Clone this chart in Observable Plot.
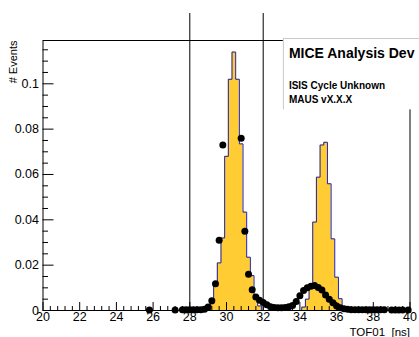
<!DOCTYPE html>
<html><head><meta charset="utf-8">
<script src="https://cdn.jsdelivr.net/npm/d3@7"></script>
<script src="https://cdn.jsdelivr.net/npm/@observablehq/plot@0.6"></script>
<style>
body{margin:0;background:#fff;}
svg{font-family:"Liberation Sans",Arial,Helvetica,sans-serif;}
</style></head><body><div id="chart"></div>
<script>
// Simulated histogram (bin centres, bin width 0.2 ns)
const histCenters = [29.2,29.4,29.6,29.8,30.0,30.2,30.4,30.6,30.8,31.0,31.2,31.4,31.6,31.8,
  32.0,32.2,32.4,32.6,32.8,33.0,33.2,33.4,33.6,33.8,34.0,
  34.2,34.4,34.6,34.8,35.0,35.2,35.4,35.6,35.8,36.0,36.2];
const histValues = [0.003,0.0125,0.021,0.032,0.068,0.102,0.114,0.102,0.0735,0.0434,0.0235,0.0154,0.006,0.002,
  0,0,0,0,0,0,0,0,0,0,0,
  0.0015,0.005,0.011,0.039,0.0588,0.073,0.0742,0.0559,0.0316,0.0147,0.0052];
const binWidth = 0.2;

// Data points (visible ones; bins 30.0-30.6 are off scale)
const dotX = [25.8,27.2,27.6,27.8,28.0,28.2,28.4,28.6,28.8,29.0,29.2,29.4,29.6,29.8,
  30.8,31.0,31.2,31.4,31.6,31.8,32.0,32.2,32.4,32.6,32.8,33.0,33.2,33.4,33.6,33.8,
  34.0,34.2,34.4,34.6,34.8,35.0,35.2,35.4,35.6,35.8,36.0,36.2,36.4,36.6,36.8,
  37.0,37.2,37.4,37.6,37.8,38.0,38.2,38.4,38.6,39.0,39.2,39.4,39.6,39.9];
const dotY = [0.0002,0.0002,0.0003,0.0003,0.0003,0.0003,0.0003,0.0003,0.0006,0.0015,0.0043,0.0118,0.031,0.073,
  0.076,0.035,0.016,0.0091,0.006,0.0045,0.0035,0.0025,0.0017,0.0013,0.0012,0.0012,0.0013,0.0016,0.0022,0.004,
  0.0065,0.0088,0.01,0.0107,0.011,0.0102,0.009,0.0068,0.005,0.0034,0.002,0.0012,0.0008,0.0005,0.0003,
  0.0003,0.0003,0.0003,0.0003,0.0003,0.0003,0.0003,0.0003,0.0003,0.0002,0.0002,0.0002,0.0002,0.0002];

const xMajor = [20,22,24,26,28,30,32,34,36,38,40];
const xTickLabels = ["20","22","24","26","28","30","32","34","36","38","40"];
const yMajor = [0,0.02,0.04,0.06,0.08,0.1];
const yTickLabels = ["0","0.02","0.04","0.06","0.08","0.1"];
const cutLines = [28,32];
const legendLines = ["MICE Analysis Dev","ISIS Cycle Unknown","MAUS vX.X.X"];
const xTitle = "TOF01\u00a0\u00a0[ns]";
const yTitle = "# Events";

const W = 419, H = 337, mL = 42.5, mR = 9.5, mT = 40, mB = 27;
const plotW = W - mL - mR, plotH = H - mT - mB;
const yMax = 0.1191;

const bins = histCenters.map((c,i)=>({x1:c-binWidth/2, x2:c+binWidth/2, y:histValues[i]}));
const outline = [{x:bins[0].x1,y:0}, ...bins.map(b=>({x:b.x1,y:b.y})), {x:bins[bins.length-1].x2,y:0}];
const dots = dotX.map((x,i)=>({x, y:dotY[i]})).filter(d=>d.y<=yMax);

const xMinor = d3.range(20,40.001,0.4).filter(v=>Math.abs(v/2-Math.round(v/2))>1e-6);
const yMinor = d3.range(0,0.1151,0.005).filter(v=>Math.abs(v/0.02-Math.round(v/0.02))>1e-6);

const chart = Plot.plot({
  width: W, height: H,
  marginLeft: mL, marginRight: mR, marginTop: mT, marginBottom: mB,
  x: {domain:[20,40]},
  y: {domain:[0,yMax]},
  style: {fontFamily:'"Liberation Sans",Arial,sans-serif', background:"#fff"},
  marks: [
    Plot.areaY(outline, {x:"x", y:"y", curve:"step-after", fill:"#ffcc33"}),
    Plot.line(outline, {x:"x", y:"y", curve:"step-after", stroke:"#1f1fb0", strokeWidth:1}),
    Plot.dot(dots, {x:"x", y:"y", r:3.5, fill:"#000"}),
    Plot.tickX(xMajor, {x:d=>d, insetTop: plotH-8, stroke:"#000"}),
    Plot.tickX(xMinor, {x:d=>d, insetTop: plotH-4, stroke:"#000"}),
    Plot.tickY(yMajor, {y:d=>d, insetRight: plotW-11, stroke:"#000"}),
    Plot.tickY(yMinor, {y:d=>d, insetRight: plotW-5.5, stroke:"#000"}),
    Plot.frame({stroke:"#000"}),
    Plot.axisX({ticks:xMajor, tickSize:0, tickPadding:2, fontSize:12.5, label:null, tickFormat:(d,i)=>xTickLabels[i]}),
    Plot.axisY({ticks:yMajor, tickSize:0, tickPadding:4, fontSize:12.5, label:null, tickFormat:(d,i)=>yTickLabels[i]}),
    Plot.ruleX(cutLines, {x:d=>d, y1:0, y2:0.131, stroke:"#000", strokeWidth:1}),
    Plot.rect([0], {x1:33.1, x2:41.5, y1:0.0885, y2:0.12, fill:"#fff"}),
    Plot.ruleY([0.12], {x1:33.1, x2:41.5, stroke:"#c8c8c8"}),
    Plot.ruleX([33.1], {y1:0.0885, y2:0.12, stroke:"#c8c8c8"}),
    Plot.text([legendLines[0]], {x:33.4, y:0.1114, text:d=>d, textAnchor:"start", lineAnchor:"bottom", fontSize:14, fontWeight:"bold", fill:"#000"}),
    Plot.text([legendLines[1]], {x:33.4, y:0.0978, text:d=>d, textAnchor:"start", lineAnchor:"bottom", fontSize:10, fontWeight:"bold", fill:"#000"}),
    Plot.text([legendLines[2]], {x:33.4, y:0.0915, text:d=>d, textAnchor:"start", lineAnchor:"bottom", fontSize:10, fontWeight:"bold", fill:"#000"}),
    Plot.text([xTitle], {frameAnchor:"bottom-right", text:d=>d, dy:25, textAnchor:"end", lineAnchor:"bottom", fontSize:11.5, fill:"#000"}),
    Plot.text([yTitle], {frameAnchor:"top-left", text:d=>d, rotate:-90, dx:-30, textAnchor:"end", lineAnchor:"middle", fontSize:11, fill:"#000"})
  ]
});
document.getElementById("chart").appendChild(chart);
</script>
</body></html>
